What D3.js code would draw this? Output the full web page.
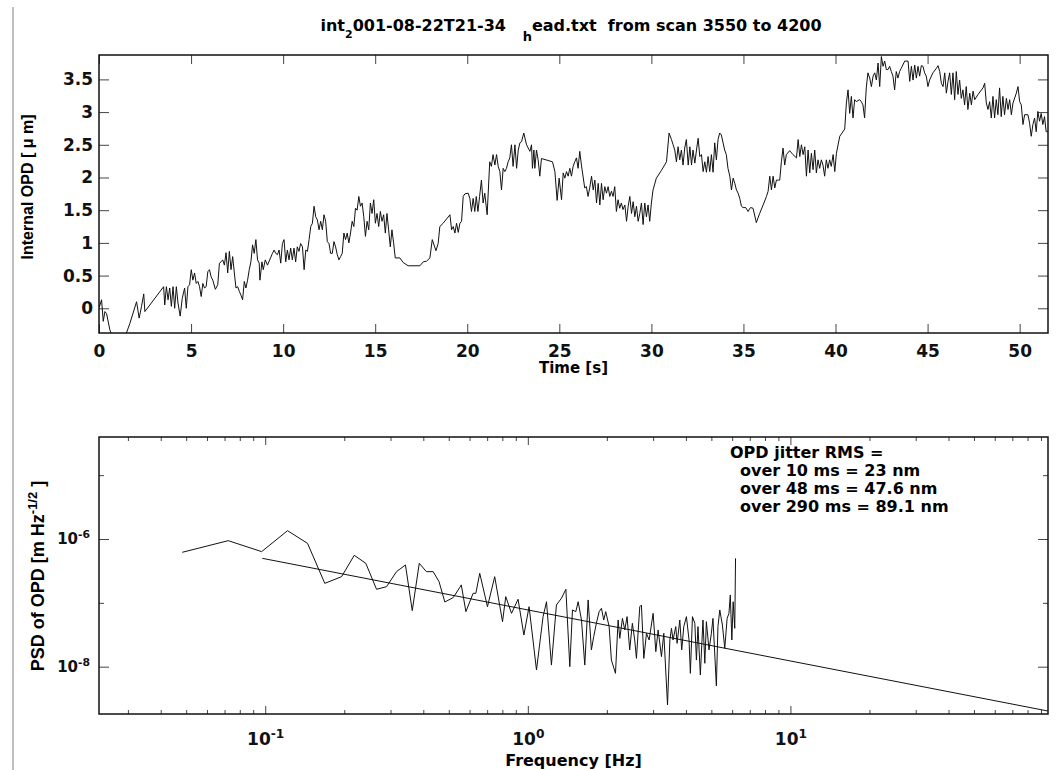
<!DOCTYPE html>
<html>
<head>
<meta charset="utf-8">
<script src="https://cdn.jsdelivr.net/npm/d3@7"></script>
<style>
body { margin: 0; background: #fff; }
svg { display: block; font-family: "DejaVu Sans", sans-serif; font-weight: bold; }
.frame { fill: none; stroke: #111; stroke-width: 1.5; }
.trace { fill: none; stroke: #111; stroke-width: 1; stroke-linejoin: round; }
.tick line { stroke: #444; }
.vtitle { font-family: "Liberation Sans", Arial, sans-serif; }
</style>
</head>
<body>
<script>
// internal OPD time series
const timeS = [0.02,0.14,0.23,0.32,0.41,0.59,0.68,1.00,1.46,1.68,2.04,2.18,2.31,2.43,2.49,3.51,3.57,3.66,3.75,3.84,3.93,4.02,4.11,4.20,4.29,4.41,4.52,4.65,4.74,4.83,4.92,5.01,5.10,5.19,5.28,5.37,5.46,5.55,5.64,5.73,5.82,5.91,6.00,6.09,6.18,6.32,6.45,6.54,6.63,6.72,6.81,6.90,6.99,7.08,7.17,7.26,7.35,7.44,7.53,7.62,7.71,7.80,7.89,7.98,8.07,8.16,8.25,8.34,8.43,8.52,8.61,8.70,8.74,8.85,8.92,9.03,9.15,9.42,9.51,9.60,9.69,9.78,9.87,9.96,10.05,10.14,10.23,10.32,10.41,10.50,10.59,10.68,10.77,10.86,10.95,11.05,11.14,11.23,11.32,11.41,11.50,11.59,11.68,11.77,11.86,11.95,12.04,12.13,12.22,12.31,12.40,12.49,12.58,12.67,12.76,12.85,12.94,13.03,13.12,13.21,13.30,13.39,13.48,13.57,13.66,13.75,13.84,13.93,14.02,14.11,14.20,14.29,14.38,14.47,14.56,14.65,14.74,14.83,14.92,15.01,15.10,15.19,15.28,15.37,15.46,15.55,15.64,15.73,15.82,15.91,16.00,16.09,
  16.34,16.52,16.79,17.43,17.61,17.79,17.97,18.10,18.30,18.42,18.51,18.69,19.06,19.15,19.24,19.33,19.42,19.51,19.60,19.69,19.78,19.87,20.05,20.14,20.23,20.32,20.41,20.49,20.58,20.67,20.77,20.86,20.95,21.08,21.22,21.31,21.40,21.50,21.59,21.68,21.77,21.86,21.95,22.04,22.13,22.22,22.31,22.40,22.49,22.59,22.68,22.77,22.86,22.95,23.07,23.22,23.31,23.40,23.49,23.54,23.62,23.67,23.76,23.85,23.94,24.03,24.63,24.76,24.88,24.99,25.12,25.21,25.30,25.39,25.48,25.57,25.66,25.75,25.84,25.93,26.02,26.11,26.20,26.38,26.47,26.56,26.65,26.75,26.84,26.93,27.02,27.11,27.20,27.29,27.38,27.47,27.56,27.65,27.74,27.83,27.92,28.01,28.10,28.19,28.28,28.37,28.46,28.56,28.65,28.74,28.83,28.92,29.01,29.10,29.19,29.28,29.37,29.46,29.55,29.64,29.73,29.82,29.91,30.00,30.09,30.27,30.55,30.82,30.96,31.09,31.18,31.27,31.36,31.45,31.54,31.63,31.72,31.81,31.90,32.00,32.09,32.18,32.26,32.36,32.45,32.54,32.63,32.72,32.81,32.90,32.99,33.08,33.17,33.26,33.35,33.44,33.53,33.62,33.71,33.80,33.98,34.07,34.16,34.26,
  34.35,34.44,34.53,34.62,34.71,34.80,34.89,34.98,35.12,35.25,35.38,35.52,35.70,35.88,36.07,36.25,36.34,36.43,36.52,36.61,36.70,36.79,36.88,36.97,37.06,37.15,37.24,37.33,37.51,37.69,37.88,37.97,38.06,38.15,38.24,38.33,38.42,38.51,38.60,38.69,38.78,38.87,38.96,39.05,39.14,39.23,39.32,39.41,39.50,39.59,39.68,39.77,39.87,39.96,40.05,40.23,40.50,40.59,40.68,40.77,40.86,40.95,41.04,41.13,41.31,41.40,41.49,41.58,41.67,41.76,41.86,41.95,42.04,42.13,42.22,42.31,42.40,42.49,42.58,42.67,42.76,42.85,42.94,43.03,43.12,43.21,43.30,43.39,43.48,43.57,43.76,43.94,44.03,44.12,44.21,44.30,44.39,44.48,44.57,44.66,44.75,44.84,44.93,45.02,45.11,45.29,45.48,45.57,45.66,45.75,45.84,45.93,46.02,46.11,46.20,46.29,46.38,46.47,46.56,46.65,46.74,46.83,46.92,47.01,47.10,47.19,47.29,47.38,47.47,47.56,47.74,48.01,48.10,48.19,48.28,48.37,48.46,48.55,48.64,48.73,48.82,48.91,49.00,49.09,49.18,49.28,49.37,49.46,49.55,49.64,49.82,49.91,50.00,50.09,50.18,50.27,50.45,50.54,50.63,50.72,50.81,50.90,50.99,51.08,51.17,51.26,51.35,51.44,51.53];
const opdUm = [0.02,0.13,-0.20,-0.05,-0.08,-0.33,-0.40,-0.60,-0.40,-0.23,0.10,-0.15,0.03,0.22,-0.05,0.33,0.05,0.33,0.13,0.31,0.03,0.33,0.00,0.33,0.08,-0.12,0.15,0.31,0.00,0.33,0.36,0.59,0.43,0.54,0.38,0.41,0.33,0.18,0.38,0.31,0.33,0.56,0.59,0.48,0.43,0.29,0.36,0.69,0.71,0.74,0.66,0.85,0.54,0.87,0.59,0.79,0.54,0.31,0.33,0.26,0.20,0.13,0.41,0.31,0.43,0.59,0.71,0.97,0.84,1.05,0.74,0.69,0.43,0.71,0.59,0.74,0.66,0.84,0.89,0.84,0.82,0.89,0.69,0.99,1.05,0.71,0.89,0.74,0.92,0.74,0.92,0.71,0.94,0.87,0.99,0.94,0.59,0.89,0.87,1.05,1.25,1.30,1.56,1.40,1.35,1.20,1.33,1.20,1.43,1.33,1.02,0.99,0.84,0.84,1.02,0.94,0.82,0.74,0.79,0.84,1.15,1.05,1.15,1.00,1.15,1.33,1.25,1.53,1.50,1.71,1.56,1.61,1.40,1.10,1.33,1.20,1.61,1.45,1.66,1.30,1.45,1.25,1.48,1.33,1.43,1.15,1.45,1.20,0.94,1.20,1.00,0.77,
  0.77,0.70,0.65,0.65,0.71,0.72,0.77,1.05,0.88,0.99,1.25,1.30,1.43,1.20,1.25,1.15,1.30,1.16,1.30,1.33,1.71,1.75,1.76,1.68,1.48,1.68,1.48,1.71,1.48,1.71,1.96,1.61,1.76,1.43,2.24,2.17,2.35,2.19,2.35,2.17,2.09,1.81,2.14,2.09,2.14,2.24,2.30,2.50,2.17,2.50,2.14,2.42,2.53,2.55,2.68,2.50,2.45,2.40,2.50,2.14,2.42,2.14,2.42,2.27,2.02,2.29,2.24,2.09,1.65,1.99,1.66,2.07,1.99,2.09,2.02,2.14,2.02,2.17,2.24,2.30,2.14,2.40,2.19,1.84,1.86,1.71,1.84,2.02,1.81,1.96,1.61,1.91,1.58,1.91,1.66,1.86,1.76,1.86,1.71,1.79,1.71,1.86,1.48,1.66,1.53,1.61,1.51,1.58,1.33,1.56,1.71,1.45,1.63,1.40,1.56,1.33,1.45,1.61,1.28,1.61,1.40,1.58,1.33,1.61,1.81,1.99,2.11,2.24,2.68,2.58,2.50,2.42,2.24,2.47,2.27,2.42,2.19,2.45,2.58,2.19,2.47,2.19,2.42,2.22,2.42,2.60,2.32,2.35,2.09,2.24,2.08,2.32,2.09,2.35,2.08,2.53,2.27,2.58,2.68,2.65,2.42,2.35,2.14,2.02,
  1.81,1.99,1.91,1.81,1.76,1.68,1.56,1.54,1.54,1.48,1.54,1.53,1.31,1.45,1.58,1.71,1.79,2.02,1.81,2.02,1.84,1.96,1.96,1.96,2.24,2.45,2.19,2.35,2.41,2.35,2.30,2.58,2.32,2.50,2.35,2.47,2.02,2.42,2.07,2.37,2.12,2.42,2.07,2.27,2.14,2.27,2.19,2.02,2.27,2.14,2.27,2.17,2.35,2.09,2.37,2.63,2.74,3.14,3.34,2.98,3.24,2.91,3.19,3.16,3.19,3.16,3.11,2.91,3.37,3.60,3.52,3.39,3.55,3.60,3.49,3.75,3.39,3.85,3.70,3.78,3.65,3.65,3.70,3.62,3.55,3.34,3.62,3.52,3.62,3.67,3.78,3.78,3.47,3.70,3.49,3.72,3.52,3.70,3.55,3.71,3.70,3.60,3.55,3.39,3.49,3.60,3.67,3.71,3.62,3.44,3.39,3.60,3.29,3.47,3.60,3.27,3.60,3.19,3.62,3.27,3.49,3.21,3.34,3.11,3.39,3.04,3.29,3.11,3.32,3.19,3.27,3.37,3.44,3.14,3.04,3.16,2.91,3.24,2.91,3.19,2.96,3.37,2.93,3.24,2.96,3.21,3.04,3.19,2.96,3.14,3.29,3.39,3.16,3.11,2.81,2.96,2.96,2.83,2.63,2.81,2.91,2.70,3.01,2.86,2.98,2.81,2.93,2.70,2.70];

// PSD of OPD (Hz, m Hz^-1/2)
const psdFreq = [0.0483,0.0723,0.0969,0.1216,0.1449,0.1686,0.1953,0.2183,0.2416,0.2654,0.2897,0.3162,0.342,0.363,0.386,0.411,0.436,0.459,0.483,0.520,0.551,0.558,0.581,0.619,0.634,0.656,0.702,0.748,0.801,0.824,0.867,0.918,0.966,1.011,1.079,1.143,1.178,1.230,1.285,1.343,1.396,1.445,1.479,1.523,1.555,1.601,1.648,1.697,1.746,1.782,1.824,1.869,1.907,1.946,1.980,2.040,2.081,2.157,2.207,2.240,2.293,2.340,2.388,2.443,2.501,2.553,2.592,2.669,2.708,2.765,2.831,2.897,3.000,3.072,3.135,3.228,3.295,3.404,3.475,3.524,3.573,3.659,3.702,3.791,3.855,3.926,4.018,4.111,4.159,4.236,4.325,4.385,4.446,4.539,4.645,4.721,4.786,4.898,5.000,5.070,5.224,5.297,5.383,5.508,5.623,5.741,5.834,5.902,5.984,6.053,6.138,6.180];
const psdAmp = [6.19e-7,9.42e-7,6.34e-7,1.35e-6,8.55e-7,2.02e-7,2.57e-7,5.55e-7,4.16e-7,1.63e-7,1.79e-7,3.08e-7,3.92e-7,7.55e-8,4.16e-7,3.08e-7,3.08e-7,2.15e-7,1.03e-7,1.21e-7,1.75e-7,1.91e-7,7.28e-8,1.41e-7,1.41e-7,2.90e-7,8.71e-8,2.57e-7,5.07e-8,1.25e-7,6.85e-8,1.14e-7,3.13e-8,8.71e-8,8.87e-9,6.08e-8,1.04e-7,1.06e-8,9.25e-8,1.18e-7,1.63e-7,1.00e-8,7.73e-8,7.28e-8,1.04e-7,5.38e-8,1.06e-8,1.11e-7,1.83e-8,2.95e-8,4.78e-8,7.28e-8,8.20e-8,5.38e-8,7.28e-8,4.24e-8,1.27e-8,7.87e-9,5.38e-8,2.78e-8,5.71e-8,3.76e-8,6.08e-8,1.83e-8,4.78e-8,2.62e-8,1.35e-8,8.71e-8,9.25e-8,1.35e-8,3.33e-8,2.62e-8,6.85e-8,1.72e-8,3.76e-8,1.44e-8,3.33e-8,2.51e-9,2.62e-8,3.99e-8,2.62e-8,4.24e-8,2.32e-8,5.38e-8,1.83e-8,4.24e-8,6.08e-8,2.62e-8,7.87e-9,6.08e-8,4.78e-8,1.27e-8,4.24e-8,7.41e-9,5.38e-8,1.13e-8,5.07e-8,1.83e-8,3.33e-8,5.71e-8,4.99e-9,4.24e-8,7.73e-8,4.50e-8,1.94e-8,5.71e-8,6.85e-8,1.33e-7,2.62e-8,1.04e-7,3.99e-8,4.98e-7];

// power-law fit
const fitFreq = [0.0975, 95.7];
const fitAmp = [4.98e-7, 2.02e-9];

const timeTicks = [0, 5, 10, 15, 20, 25, 30, 35, 40, 45, 50];
const opdTicks = [0, 0.5, 1, 1.5, 2, 2.5, 3, 3.5];
const freqTicks = [0.1, 1, 10];
const freqExp = ["-1", "0", "1"];
const psdTicks = [1e-6, 1e-8];
const psdExp = ["-6", "-8"];
const psdMinor = [1e-5, 1e-7];
const rmsLines = ["OPD jitter RMS =", "over 10 ms = 23 nm", "over 48 ms = 47.6 nm", "over 290 ms = 89.1 nm"];

const width = 1057, height = 770;
const top1 = {left: 99, right: 1048, top: 55, bottom: 333};
const bot1 = {left: 99, right: 1048, top: 437, bottom: 714};

let svg = d3.select("body").append("svg")
    .attr("width", width)
    .attr("height", height);

// grey rule at the left edge
svg.append("line")
    .attr("x1", 13).attr("x2", 13)
    .attr("y1", 7).attr("y2", height)
    .attr("stroke", "#aaa")
    .attr("stroke-width", 1.5);

function powLabel(text, exp) {
    text.text(null);
    text.append("tspan").text("10");
    text.append("tspan")
        .attr("dy", "-0.55em")
        .attr("font-size", "0.72em")
        .text(exp);
}

function styleAxis(g, size) {
    g.attr("font-size", size || 17)
        .attr("font-family", null);
    g.select(".domain").remove();
    g.selectAll(".tick text").attr("fill", "#111");
}

// ---------- top plot: OPD vs time ----------
let x = d3.scaleLinear()
    .domain([0, 51.54])
    .range([top1.left, top1.right]);

let y = d3.scaleLinear()
    .domain([-0.378, 3.873])
    .range([top1.bottom, top1.top]);

svg.append("clipPath").attr("id", "clipTop")
    .append("rect")
    .attr("x", top1.left).attr("y", top1.top)
    .attr("width", top1.right - top1.left)
    .attr("height", top1.bottom - top1.top);

svg.append("g")
    .attr("transform", "translate(0," + top1.bottom + ")")
    .call(d3.axisBottom(x).tickValues(timeTicks).tickSize(-9).tickPadding(12).tickFormat(d3.format("d")))
    .call(styleAxis);
svg.append("g")
    .attr("transform", "translate(0," + top1.top + ")")
    .call(d3.axisTop(x).tickValues(timeTicks).tickSize(-9).tickFormat(""))
    .call(styleAxis);
svg.append("g")
    .attr("transform", "translate(" + top1.left + ",0)")
    .call(d3.axisLeft(y).tickValues(opdTicks).tickSize(-10).tickPadding(6).tickFormat(d => String(d)))
    .call(styleAxis);
svg.append("g")
    .attr("transform", "translate(" + top1.right + ",0)")
    .call(d3.axisRight(y).tickValues(opdTicks).tickSize(-10).tickFormat(""))
    .call(styleAxis);

let opdLine = d3.line()
    .x((d, i) => x(timeS[i]))
    .y(d => y(d));

svg.append("path")
    .datum(opdUm)
    .attr("class", "trace")
    .attr("clip-path", "url(#clipTop)")
    .attr("d", opdLine);

svg.append("rect")
    .attr("class", "frame")
    .attr("x", top1.left).attr("y", top1.top)
    .attr("width", top1.right - top1.left)
    .attr("height", top1.bottom - top1.top);

// title with IDL-style subscripts
let title = svg.append("text")
    .attr("x", 571)
    .attr("y", 31)
    .attr("text-anchor", "middle")
    .attr("font-size", 16)
    .style("white-space", "pre");
title.append("tspan").text("int");
title.append("tspan").attr("dy", 7).attr("font-size", 11).text("2");
title.append("tspan").attr("dy", -7).text("001-08-22T21-34   ");
title.append("tspan").attr("dy", 10).attr("font-size", 13).text("h");
title.append("tspan").attr("dy", -10).text("ead.txt  from scan 3550 to 4200");

svg.append("text")
    .attr("x", (top1.left + top1.right) / 2)
    .attr("y", 373)
    .attr("text-anchor", "middle")
    .attr("font-size", 15)
    .text("Time [s]");

svg.append("text")
    .attr("class", "vtitle")
    .attr("transform", "translate(33,187) rotate(-90)")
    .attr("text-anchor", "middle")
    .attr("font-size", 16)
    .style("white-space", "pre")
    .text("Internal OPD [ \u03bc m]");

// ---------- bottom plot: PSD ----------
let fx = d3.scaleLog()
    .domain([0.02328, 95.7])
    .range([bot1.left, bot1.right]);

let fy = d3.scaleLog()
    .domain([1.815e-9, 3.96e-5])
    .range([bot1.bottom, bot1.top]);

let freqMinor = fx.ticks().filter(d => freqTicks.indexOf(d) < 0);

svg.append("clipPath").attr("id", "clipBot")
    .append("rect")
    .attr("x", bot1.left).attr("y", bot1.top)
    .attr("width", bot1.right - bot1.left)
    .attr("height", bot1.bottom - bot1.top);

let xMajor = svg.append("g")
    .attr("transform", "translate(0," + bot1.bottom + ")")
    .call(d3.axisBottom(fx).tickValues(freqTicks).tickSize(-8).tickPadding(19).tickFormat(""))
    .call(styleAxis);
xMajor.selectAll(".tick text").each(function(d, i) { powLabel(d3.select(this), freqExp[i]); });
svg.append("g")
    .attr("transform", "translate(0," + bot1.bottom + ")")
    .call(d3.axisBottom(fx).tickValues(freqMinor).tickSize(-4).tickFormat(""))
    .call(styleAxis);
svg.append("g")
    .attr("transform", "translate(0," + bot1.top + ")")
    .call(d3.axisTop(fx).tickValues(freqTicks).tickSize(-8).tickFormat(""))
    .call(styleAxis);
svg.append("g")
    .attr("transform", "translate(0," + bot1.top + ")")
    .call(d3.axisTop(fx).tickValues(freqMinor).tickSize(-4).tickFormat(""))
    .call(styleAxis);

let yMajor = svg.append("g")
    .attr("transform", "translate(" + bot1.left + ",0)")
    .call(d3.axisLeft(fy).tickValues(psdTicks).tickSize(-10).tickPadding(9).tickFormat(""))
    .call(g => styleAxis(g, 15));
yMajor.selectAll(".tick text").each(function(d, i) { powLabel(d3.select(this), psdExp[i]); });
svg.append("g")
    .attr("transform", "translate(" + bot1.left + ",0)")
    .call(d3.axisLeft(fy).tickValues(psdMinor).tickSize(-5).tickFormat(""))
    .call(styleAxis);
svg.append("g")
    .attr("transform", "translate(" + bot1.right + ",0)")
    .call(d3.axisRight(fy).tickValues(psdTicks).tickSize(-10).tickFormat(""))
    .call(styleAxis);
svg.append("g")
    .attr("transform", "translate(" + bot1.right + ",0)")
    .call(d3.axisRight(fy).tickValues(psdMinor).tickSize(-5).tickFormat(""))
    .call(styleAxis);

let psdLine = d3.line()
    .x((d, i) => fx(psdFreq[i]))
    .y(d => fy(d));
let fitLine = d3.line()
    .x((d, i) => fx(fitFreq[i]))
    .y(d => fy(d));

svg.append("path")
    .datum(psdAmp)
    .attr("class", "trace")
    .attr("clip-path", "url(#clipBot)")
    .attr("d", psdLine);
svg.append("path")
    .datum(fitAmp)
    .attr("class", "trace")
    .attr("stroke-width", 1.3)
    .attr("clip-path", "url(#clipBot)")
    .attr("d", fitLine);

svg.append("rect")
    .attr("class", "frame")
    .attr("x", bot1.left).attr("y", bot1.top)
    .attr("width", bot1.right - bot1.left)
    .attr("height", bot1.bottom - bot1.top);

svg.append("text")
    .attr("x", (bot1.left + bot1.right) / 2)
    .attr("y", 766)
    .attr("text-anchor", "middle")
    .attr("font-size", 16)
    .text("Frequency [Hz]");

let psdTitle = svg.append("text")
    .attr("class", "vtitle")
    .attr("transform", "translate(44,576) rotate(-90)")
    .attr("text-anchor", "middle")
    .attr("font-size", 18)
    .style("white-space", "pre");
psdTitle.append("tspan").text("PSD of OPD [m Hz");
psdTitle.append("tspan").attr("dy", "-0.55em").attr("font-size", "0.72em").text("-1/2");
psdTitle.append("tspan").attr("dy", "0.4em").text(" ]");

// RMS annotation
svg.append("g")
    .attr("font-size", 16)
    .selectAll("text")
    .data(rmsLines)
    .enter().append("text")
    .attr("x", (d, i) => i === 0 ? 730 : 740)
    .attr("y", (d, i) => 458 + i * 17.9)
    .text(d => d);
</script>
</body>
</html>
